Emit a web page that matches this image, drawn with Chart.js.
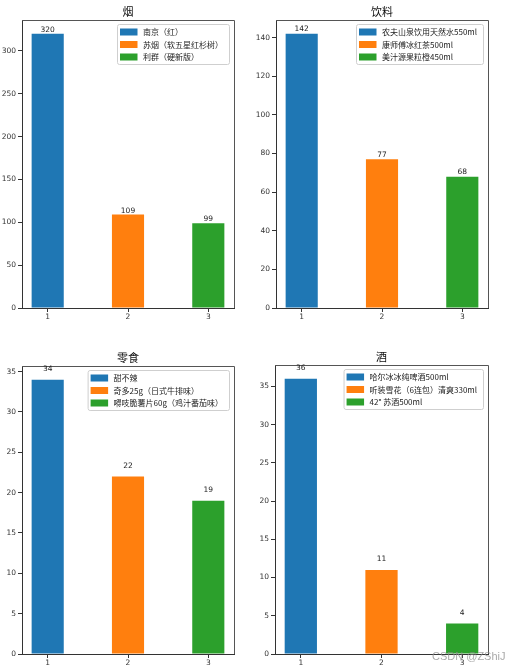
<!DOCTYPE html>
<html>
<head>
<meta charset="utf-8">
<script src="https://cdn.jsdelivr.net/npm/chart.js@4.4.1/dist/chart.umd.min.js"></script>
<style>
    body { margin: 0; background: #fff; width: 513px; height: 672px; position: relative; overflow: hidden; }
    .box { position: absolute; }
    #wm { position: absolute; left: 432px; top: 650px; font: 11px "Liberation Sans", Arial, sans-serif; color: rgba(140,140,140,0.75); white-space: nowrap; }
</style>
</head>
<body>
<div class="box" style="left:0;top:0"><canvas id="c1"></canvas></div>
<div class="box" style="left:256px;top:0"><canvas id="c2"></canvas></div>
<div class="box" style="left:0;top:340px"><canvas id="c3"></canvas></div>
<div class="box" style="left:256px;top:340px"><canvas id="c4"></canvas></div>
<div id="wm">CSDN @ZShiJ</div>
<script>
// 数据
const xPos = [1, 2, 3];
const colors = ['#1f77b4', '#ff7f0e', '#2ca02c'];

const smokeNames = ['南京（红）', '苏烟（软五星红杉树）', '利群（硬新版）'];
const smokeValues = [320, 109, 99];
const smokeTicks = [0, 50, 100, 150, 200, 250, 300];

const drinkNames = ['农夫山泉饮用天然水550ml', '康师傅冰红茶500ml', '美汁源果粒橙450ml'];
const drinkValues = [142, 77, 68];
const drinkTicks = [0, 20, 40, 60, 80, 100, 120, 140];

const snackNames = ['甜不辣', '奇多25g（日式牛排味）', '嘚吱脆薯片60g（鸡汁番茄味）'];
const snackValues = [34, 22, 19];
const snackTicks = [0, 5, 10, 15, 20, 25, 30, 35];

const wineNames = ['哈尔冰冰纯啤酒500ml', '听装雪花（6连包）清爽330ml', '42° 苏酒500ml'];
const wineValues = [36, 11, 4];
const wineTicks = [0, 5, 10, 15, 20, 25, 30, 35];

const cjk = '"Noto Sans CJK SC", "DejaVu Sans", sans-serif';
const tickFont = { size: 7.5, family: '"DejaVu Sans", sans-serif' };

const panels = [
    { id: 'c1', w: 256, h: 336, area: { l: 22, t: 20, r: 234, b: 308 }, title: '烟', names: smokeNames, values: smokeValues, ticks: smokeTicks },
    { id: 'c2', w: 257, h: 336, area: { l: 20, t: 20, r: 232, b: 308 }, title: '饮料', names: drinkNames, values: drinkValues, ticks: drinkTicks },
    { id: 'c3', w: 256, h: 332, area: { l: 22, t: 26, r: 234, b: 314 }, title: '零食', names: snackNames, values: snackValues, ticks: snackTicks },
    { id: 'c4', w: 257, h: 332, area: { l: 19, t: 25, r: 232, b: 314 }, title: '酒', names: wineNames, values: wineValues, ticks: wineTicks }
];

// 边框、标题、图例、数值标注
const extras = {
    id: 'extras',
    afterDraw(chart, args, opts) {
        const ctx = chart.ctx;
        const a = chart.chartArea;
        const p = opts.panel;
        ctx.save();

        // 上边和右边的框线
        ctx.strokeStyle = '#555';
        ctx.lineWidth = 1;
        ctx.beginPath();
        ctx.moveTo(a.left, a.top + 0.5);
        ctx.lineTo(a.right + 0.5, a.top + 0.5);
        ctx.lineTo(a.right + 0.5, a.bottom);
        ctx.stroke();

        // 标题
        ctx.fillStyle = '#111';
        ctx.font = '11px ' + cjk;
        ctx.textAlign = 'center';
        ctx.textBaseline = 'middle';
        ctx.fillText(p.title, (a.left + a.right) / 2, a.top - 8);

        // 数值
        const yScale = chart.scales.y;
        const meta = chart.getDatasetMeta(0);
        ctx.font = '7.5px "DejaVu Sans", sans-serif';
        ctx.fillStyle = '#222';
        ctx.textBaseline = 'bottom';
        meta.data.forEach((bar, i) => {
            const v = p.values[i];
            ctx.fillText(String(v), bar.x, yScale.getPixelForValue(v + 1) + 1);
        });

        // 图例
        ctx.font = '8px ' + cjk;
        let maxW = 0;
        p.names.forEach(n => { maxW = Math.max(maxW, ctx.measureText(n).width); });
        const bw = 2 + 18 + 6 + maxW + 6;
        const bh = 40;
        const bx = a.right - 5 - bw;
        const by = a.top + 4;
        ctx.fillStyle = 'rgba(255,255,255,0.85)';
        ctx.strokeStyle = '#cfcfcf';
        ctx.beginPath();
        ctx.roundRect(bx + 0.5, by + 0.5, bw, bh, 2);
        ctx.fill();
        ctx.stroke();
        ctx.textAlign = 'left';
        ctx.textBaseline = 'middle';
        p.names.forEach((n, i) => {
            const cy = by + 8 + i * 12.5;
            ctx.fillStyle = colors[i];
            ctx.fillRect(bx + 3, cy - 3.5, 17.5, 7);
            ctx.fillStyle = '#222';
            ctx.fillText(n, bx + 26, cy);
        });

        ctx.restore();
    }
};

panels.forEach(p => {
    const canvas = document.getElementById(p.id);
    canvas.width = p.w;
    canvas.height = p.h;
    canvas.style.width = p.w + 'px';
    canvas.style.height = p.h + 'px';

    new Chart(canvas, {
        type: 'bar',
        data: {
            datasets: [{
                data: p.values.map((v, i) => ({ x: xPos[i], y: v })),
                backgroundColor: colors,
                borderWidth: 0,
                barPercentage: 0.4,
                categoryPercentage: 1.0
            }]
        },
        options: {
            responsive: false,
            animation: false,
            layout: { padding: { left: 0, top: p.area.t, right: p.w - p.area.r, bottom: 0 } },
            plugins: {
                legend: { display: false },
                tooltip: { enabled: false },
                extras: { panel: p }
            },
            scales: {
                x: {
                    type: 'linear',
                    offset: false,
                    min: 0.68,
                    max: 3.32,
                    afterBuildTicks: s => { s.ticks = xPos.map(v => ({ value: v })); },
                    afterFit: s => { s.height = p.h - p.area.b; },
                    grid: { offset: false, drawOnChartArea: false, drawTicks: true, tickLength: 4, color: '#333' },
                    border: { display: true, color: '#333', width: 1 },
                    ticks: { font: tickFont, color: '#333', padding: 1, maxRotation: 0 }
                },
                y: {
                    min: 0,
                    max: Math.max(...p.values) * 1.05,
                    afterBuildTicks: s => { s.ticks = p.ticks.map(v => ({ value: v })); },
                    afterFit: s => { s.width = p.area.l; },
                    grid: { drawOnChartArea: false, drawTicks: true, tickLength: 4, color: '#333' },
                    border: { display: true, color: '#333', width: 1 },
                    ticks: { font: tickFont, color: '#333', padding: 2 }
                }
            }
        },
        plugins: [extras]
    });
});
</script>
</body>
</html>
